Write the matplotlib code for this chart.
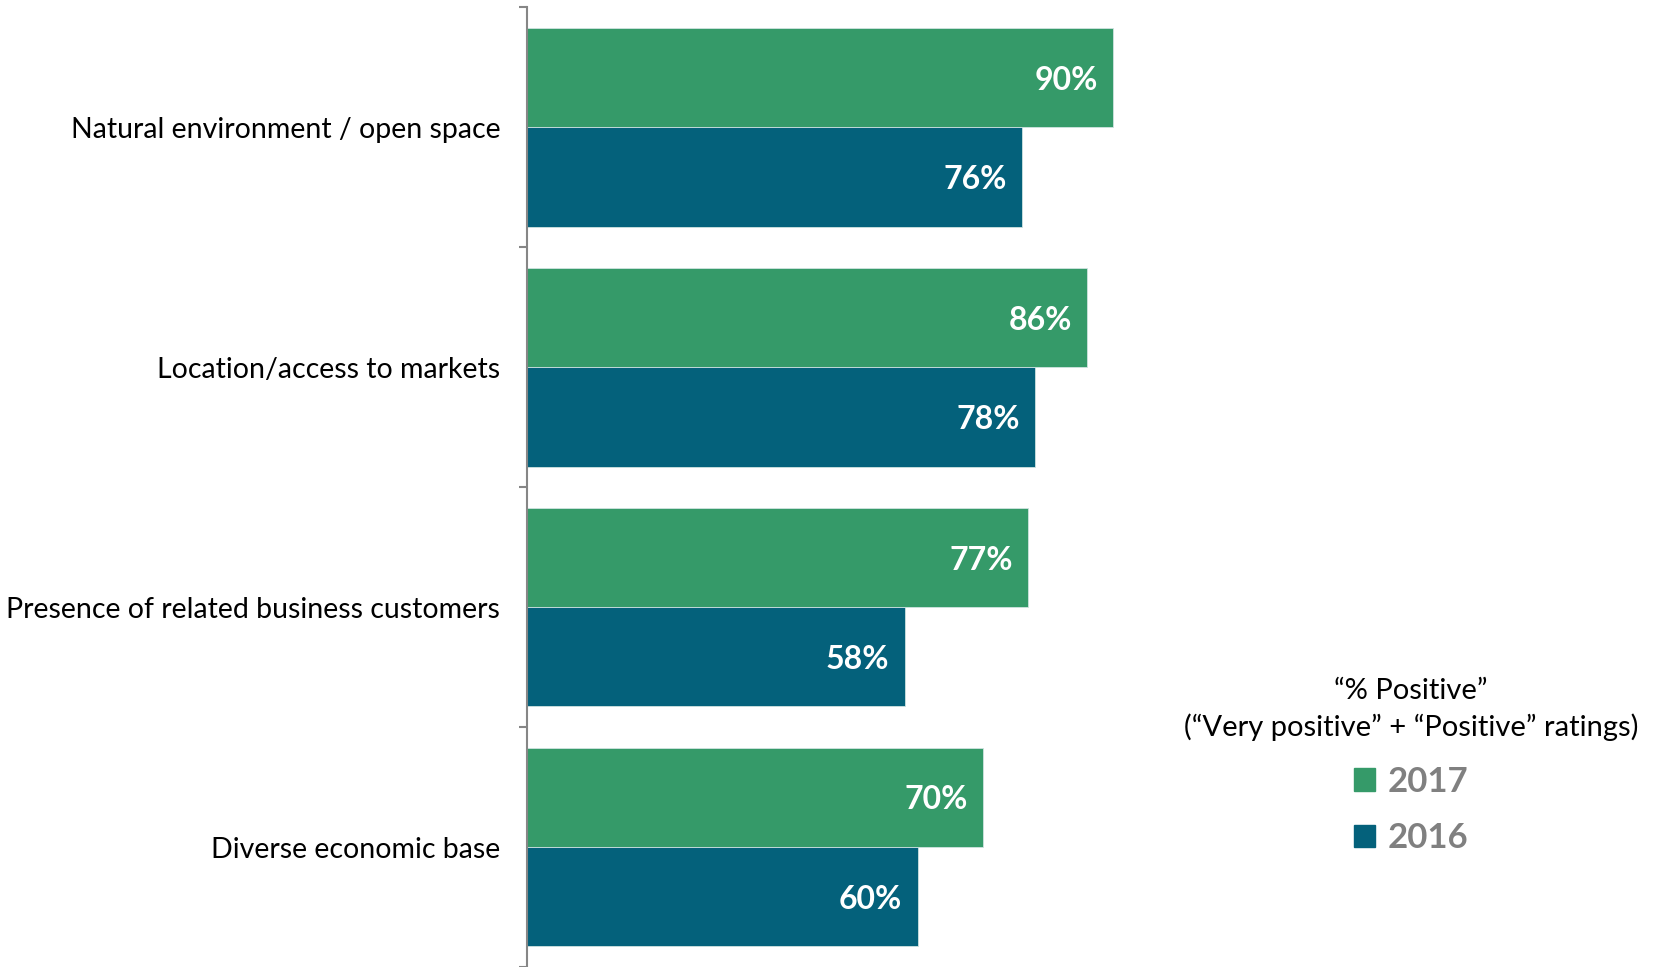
import matplotlib
matplotlib.use('Agg')
import matplotlib.pyplot as plt
from matplotlib.patches import Patch

plt.rcParams['font.family'] = ['Lato', 'DejaVu Sans']

categories = ['Natural environment / open space', 'Location/access to markets',
              'Presence of related business customers', 'Diverse economic base']
vals_2017 = [90, 86, 77, 70]
vals_2016 = [76, 78, 58, 60]
years = ['2017', '2016']
colors = ['#359a69', '#04617b']

fig = plt.figure(figsize=(16.58, 9.67), dpi=100)
ax = fig.add_axes([0.3176, 0.0, 0.393, 0.9923])

h = 0.414
ypos = list(range(len(categories)))
for vals, off, col in [(vals_2017, -h / 2, colors[0]), (vals_2016, h / 2, colors[1])]:
    bars = ax.barh([y + off for y in ypos], vals, height=h, color=col,
                   edgecolor='#cfe3e0', linewidth=0.6)
    for b, v in zip(bars, vals):
        ax.annotate('{}%'.format(v), (v, b.get_y() + h / 2), xytext=(-11, 0),
                    textcoords='offset points', ha='right', va='center_baseline',
                    color='white', fontsize=23, fontweight='bold')

ax.set_xlim(0, 100)
ax.set_ylim(len(categories) - 0.5, -0.5)
ax.set_yticks(ypos)
ax.set_yticklabels(categories, fontsize=20.5)
ax.set_yticks([y + 0.5 for y in range(-1, len(categories))], minor=True)
ax.tick_params(axis='y', which='major', length=0, pad=19)
ax.tick_params(axis='y', which='minor', length=6, width=1.5, color='#868686')
ax.set_xticks([])
for s in ['top', 'right', 'bottom']:
    ax.spines[s].set_visible(False)
ax.spines['left'].set_color('#868686')
ax.spines['left'].set_linewidth(1.5)

handles = [Patch(color=c) for c in colors]
leg = fig.legend(handles, years, loc='center', bbox_to_anchor=(0.851, 0.208),
                 title='\u201c% Positive\u201d\n(\u201cVery positive\u201d + \u201cPositive\u201d ratings)',
                 title_fontsize=21, prop={'size': 25, 'weight': 'bold'},
                 labelcolor='#808080', frameon=False, handlelength=0.6,
                 handleheight=0.6, handletextpad=0.35, labelspacing=0.7,
                 alignment='center')
leg.get_title().set_multialignment('center')
leg.get_title().set_linespacing(1.45)

fig.savefig('out.png', dpi=100)
